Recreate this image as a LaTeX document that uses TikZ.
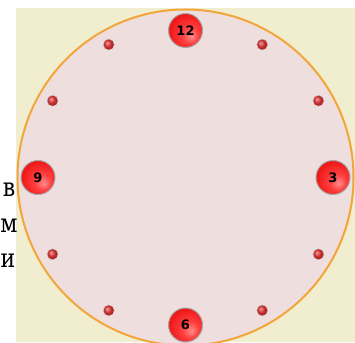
\documentclass[tikz,border=0pt]{standalone}
\usepackage{fontspec}
\usetikzlibrary{calc}
\setmainfont{DejaVu Serif}
\setsansfont{DejaVu Sans}
\definecolor{cream}{HTML}{F1EDCF}
\definecolor{dialfill}{HTML}{EEDFDE}
\definecolor{rim}{HTML}{F2A53A}
\definecolor{ballred}{HTML}{F01818}
\pgfdeclareradialshading{bigball}{\pgfpoint{9bp}{-9bp}}{%
  color(0bp)=(white!55!red);
  color(12bp)=(red!75!white);
  color(28bp)=(ballred);
  color(42bp)=(ballred!85!black);
  color(50bp)=(ballred!80!black)}
\pgfdeclareradialshading{smallball}{\pgfpoint{-8bp}{8bp}}{%
  color(0bp)=(white!60!red);
  color(15bp)=(red!70!black!80!white);
  color(35bp)=(red!60!black);
  color(50bp)=(red!50!black)}
\tikzset{
  hourball/.style={circle, minimum size=34pt, inner sep=0pt, shading=bigball,
    draw=gray!70, line width=1pt, font=\sffamily\bfseries\fontsize{13}{13}\selectfont, text=black},
  minuteball/.style={circle, minimum size=11pt, inner sep=0pt, shading=smallball,
    draw=gray!40, line width=0.4pt},
  sideletter/.style={inner sep=0pt, xscale=0.85, font=\fontsize{26}{26}\selectfont}
}
\begin{document}
\begin{tikzpicture}[x=1pt,y=-1pt]
\useasboundingbox (0,0) rectangle (355,342);
\fill[cream] (16,8) rectangle (355,342);
\begin{scope}
\clip (0,0) rectangle (355,342);
\draw[fill=dialfill, draw=rim, line width=2pt] (185.5,177.5) circle[radius=168];
\end{scope}
\coordinate (c) at (185.5,177.5);
\node[hourball] (h12) at ($(c)+(0,-147)$) {12};
\node[hourball] (h3) at ($(c)+(147.5,0)$) {3};
\node[hourball] (h6) at ($(c)+(0,147.5)$) {6};
\node[hourball] (h9) at ($(c)+(-147.5,0)$) {9};
\foreach \a [count=\i] in {30,60,120,150,210,240,300,330}{
  \node[minuteball] (m\i) at ($(c)+(\a:153.5)$) {};
}
\node[sideletter, anchor=base east] (l1) at (15.5,196.5) {в};
\node[sideletter, anchor=base west] (l2) at (0.3,232.5) {м};
\node[sideletter, anchor=base east] (l3) at (15.5,267.5) {и};
\end{tikzpicture}
\end{document}
